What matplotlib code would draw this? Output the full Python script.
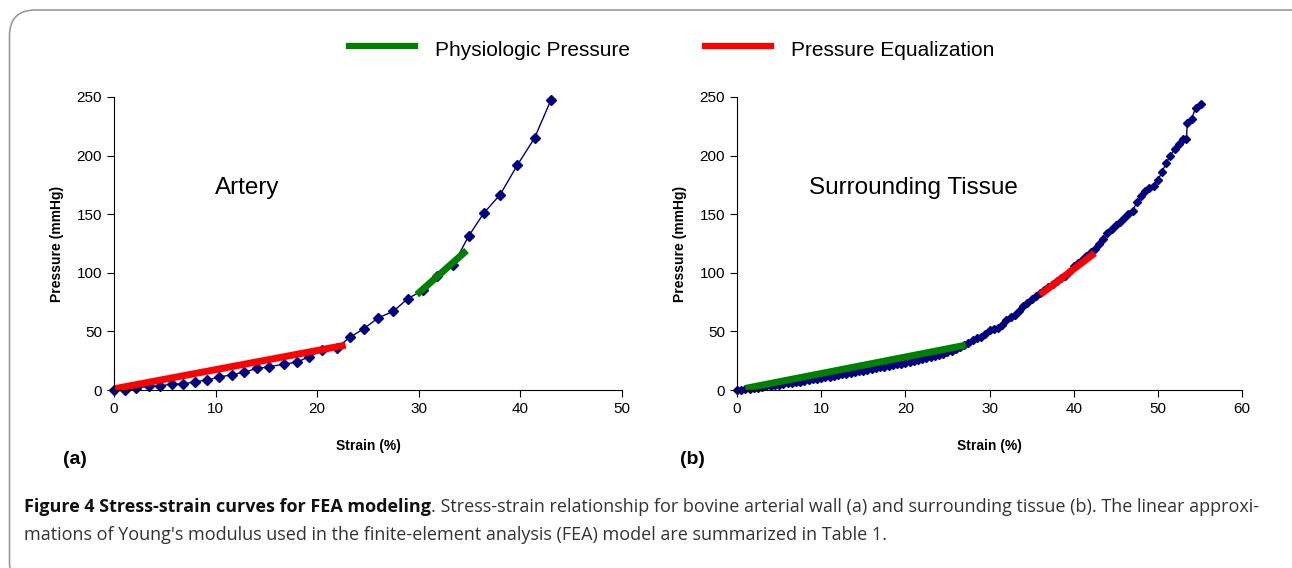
import matplotlib.pyplot as plt
from matplotlib.patches import FancyBboxPatch
from matplotlib.lines import Line2D

# artery: strain (%) vs pressure (mmHg)
artery_strain = [0, 1.1, 2.2, 3.4, 4.5, 5.7, 6.8, 8.0, 9.2, 10.3, 11.6, 12.8, 14.1, 15.3,
                 16.7, 18.0, 19.2, 20.5, 21.9, 23.2, 24.6, 26.0, 27.5, 28.9, 30.4, 31.8,
                 33.4, 34.9, 36.4, 38.0, 39.7, 41.4, 43.0]
artery_pressure = [0, 0, 1.4, 3.4, 3.4, 5.1, 5.1, 7.1, 8.5, 11, 13, 15.3, 18.4, 19.8,
                   22.1, 23.8, 28.3, 34, 36, 44.8, 52.4, 61.5, 67.2, 77.9, 85, 96.9,
                   106.9, 131.2, 151, 166.6, 191.9, 215.1, 247.4]
artery_equal_x = [0, 22.8]
artery_equal_y = [1.0, 38.3]
artery_phys_x = [29.8, 34.7]
artery_phys_y = [81.3, 119.0]

# surrounding tissue
tissue_strain = [0, 0.5, 1, 1.5, 2, 2.5, 3, 3.5, 4, 4.5, 5, 5.5, 6, 6.5, 7, 7.5, 8, 8.5, 9, 9.5,
                 10, 10.5, 11, 11.5, 12, 12.5, 13, 13.5, 14, 14.5, 15, 15.5, 16, 16.5, 17, 17.5,
                 18, 18.5, 19, 19.5, 20, 20.5, 21, 21.5, 22, 22.5, 23, 23.5, 24, 24.5, 25, 25.5,
                 26, 26.5, 27, 27.5, 28, 28.5, 29, 29.5, 30, 30.5, 31, 31.5, 32, 32.5, 33, 33.5,
                 34, 34.5, 35, 35.5, 36, 36.5, 37, 37.5, 38, 38.5, 39, 39.5, 40, 40.5, 41, 41.5,
                 42, 42.5, 43, 43.5, 44, 44.5, 45, 45.5, 46, 46.5, 47, 47.5, 48, 48.5, 49, 49.5,
                 50, 50.5, 51, 51.5, 52, 52.5, 53, 53.4, 53.5, 54, 54.5, 55.1]
tissue_pressure = [0, 0.3, 0.8, 1.2, 1.7, 2.1, 2.6, 3.0, 3.5, 4.0, 4.5, 5.0, 5.6, 6.1, 6.7, 7.2,
                   7.8, 8.4, 9.0, 9.6, 10.3, 10.9, 11.5, 12.1, 12.8, 13.4, 14.0, 14.7, 15.3, 16.0,
                   16.6, 17.2, 17.9, 18.6, 19.2, 19.9, 20.6, 21.3, 22.0, 22.6, 23.3, 24.0, 24.8,
                   25.6, 26.3, 27.1, 28.0, 29.0, 30.0, 31.0, 32.2, 33.5, 35.0, 36.6, 38.2, 40.5,
                   42.5, 44.0, 45.5, 48.0, 51.0, 52.0, 52.5, 55.5, 59.5, 62.0, 64.0, 67.0, 72.0,
                   74.0, 77.5, 80.0, 82.5, 85.5, 88.0, 90.5, 93.0, 95.5, 97.5, 101.0, 106.0,
                   108.0, 110.5, 114.0, 118.0, 120.0, 124.5, 128.5, 134.0, 137.5, 141.0, 143.0,
                   147.0, 150.0, 153.0, 160.0, 165.5, 170.0, 172.0, 174.0, 179.0, 186.0, 194.0,
                   200.0, 205.5, 210.0, 214.5, 214.0, 228.0, 231.0, 241.0, 244.0]
tissue_phys_x = [1.0, 27.2]
tissue_phys_y = [1.4, 38.3]
tissue_equal_x = [36.0, 42.5]
tissue_equal_y = [81.3, 116.8]

plt.rcParams['font.family'] = ['Liberation Sans', 'DejaVu Sans']

W, H = 1292, 568
fig = plt.figure(figsize=(W / 100, H / 100), dpi=100)

def px_axes(x0, x1, y0, y1):
    return fig.add_axes([x0 / W, 1 - y1 / H, (x1 - x0) / W, (y1 - y0) / H])

def style(ax, xmax):
    for s in ['top', 'right']:
        ax.spines[s].set_visible(False)
    ax.set_xlim(0, xmax)
    ax.set_ylim(0, 250)
    ax.set_xticks(range(0, xmax + 1, 10))
    ax.set_yticks(range(0, 251, 50))
    ax.tick_params(direction='out', length=5, labelsize=11, width=0.8)
    ax.set_xlabel('Strain (%)', fontsize=10, fontweight='bold', labelpad=17)
    ax.set_ylabel('Pressure (mmHg)', fontsize=10, fontweight='bold', labelpad=9)
    ax.patch.set_alpha(0)

blue = '#000080'
ax1 = px_axes(114, 622, 97, 390)
ax1.plot(artery_strain, artery_pressure, color=blue, lw=1, marker='D', ms=5, clip_on=False)
ax1.plot(artery_equal_x, artery_equal_y, color='#ff0000', lw=5, solid_capstyle='butt')
ax1.plot(artery_phys_x, artery_phys_y, color='#008000', lw=5, solid_capstyle='butt')
style(ax1, 50)
ax1.text(0.262, 0.69, 'Artery', transform=ax1.transAxes, fontsize=17.5, ha='center', va='center')

ax2 = px_axes(737, 1242, 97, 390)
ax2.plot(tissue_strain, tissue_pressure, color=blue, lw=1, marker='D', ms=4, clip_on=False)
ax2.plot(tissue_phys_x, tissue_phys_y, color='#008000', lw=5, solid_capstyle='butt')
ax2.plot(tissue_equal_x, tissue_equal_y, color='#ff0000', lw=5, solid_capstyle='butt')
style(ax2, 60)
ax2.text(0.35, 0.69, 'Surrounding Tissue', transform=ax2.transAxes, fontsize=17.5, ha='center', va='center')

# panel letters
fig.text(63 / W, 1 - 460 / H, '(a)', fontsize=14, fontweight='bold', ha='left', va='center')
fig.text(680 / W, 1 - 460 / H, '(b)', fontsize=14, fontweight='bold', ha='left', va='center')

# legend drawn across the top
for x0, color, label in [(349, '#008000', 'Physiologic Pressure'),
                         (705, '#ff0000', 'Pressure Equalization')]:
    fig.add_artist(Line2D([x0 / W, (x0 + 66) / W], [1 - 46 / H] * 2, color=color, lw=4.5))
    fig.text((x0 + 86) / W, 1 - 50 / H, label, fontsize=15, ha='left', va='center')

# frame around figure
fig.add_artist(FancyBboxPatch((9.5 / W, -20 / H), (W + 20) / W, (H + 10) / H,
                              boxstyle='round,pad=0,rounding_size=0.02', transform=fig.transFigure,
                              fill=False, edgecolor='#999999', lw=1.2, mutation_aspect=W / H))

# caption
cap_font = ['Open Sans', 'DejaVu Sans']
t1 = fig.text(24 / W, 1 - 507 / H, 'Figure 4 Stress-strain curves for FEA modeling', fontsize=13,
              fontweight='bold', family=cap_font, ha='left', va='center', color='#111111')
fig.canvas.draw()
bb = t1.get_window_extent()
fig.text(bb.x1 / W, 1 - 507 / H,
         ". Stress-strain relationship for bovine arterial wall (a) and surrounding tissue (b). "
         "The linear approxi-", fontsize=13, family=cap_font, ha='left', va='center', color='#333333')
fig.text(24 / W, 1 - 535 / H,
         "mations of Young's modulus used in the finite-element analysis (FEA) model are summarized in Table 1.",
         fontsize=13, family=cap_font, ha='left', va='center', color='#333333')

fig.savefig('out.png', dpi=100)
